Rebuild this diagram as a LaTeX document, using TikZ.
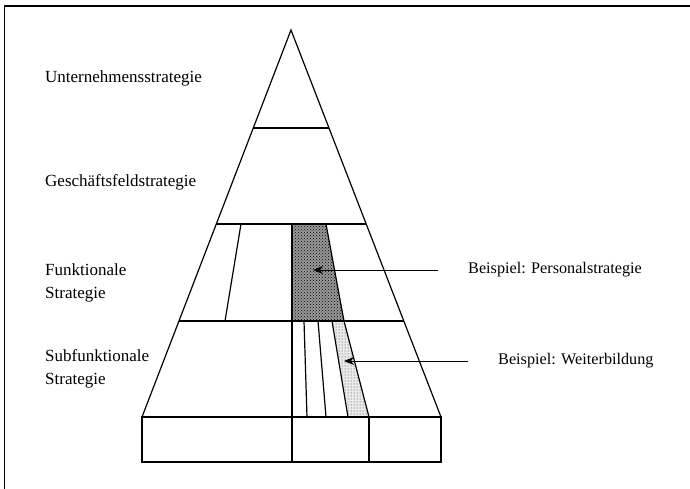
\documentclass[tikz,border=0pt]{standalone}
\usepackage{fontspec}
\setmainfont{Liberation Serif}
\usetikzlibrary{arrows.meta,patterns}
\begin{document}
\begin{tikzpicture}[x=1pt,y=-1pt,
  edge/.style={line width=1.2pt,line join=miter},
  lbl/.style={font=\fontsize{17}{23}\selectfont,inner sep=0pt,anchor=west,align=left},
  note/.style={font=\fontsize{16.2}{23}\selectfont,inner sep=0pt,anchor=west},
  pointer/.style={line width=1pt,-{Stealth[length=10pt,width=8pt,inset=3pt]}}]
\useasboundingbox (0,0) rectangle (690,489);
% frame
\draw[line width=1.4pt] (4.5,489) -- (4.5,6) -- (690,6);
% key points
\coordinate (A) at (291,30);
\coordinate (BL) at (142,417);
\coordinate (BR) at (441,417);
% shaded regions
\fill[black!40] (292,224) -- (326,224) -- (344,321) -- (292,321) -- cycle;
\fill[pattern=crosshatch dots,pattern color=black] (292,224) -- (326,224) -- (344,321) -- (292,321) -- cycle;
\fill[black!8] (332,321) -- (344,321) -- (369,417) -- (348,417) -- cycle;
\fill[pattern=dots,pattern color=black!80] (332,321) -- (344,321) -- (369,417) -- (348,417) -- cycle;
% pyramid outline
\draw[edge] (A) -- (BL) -- (BR) -- cycle;
\draw[edge] (253.3,128) -- (329.0,128);
\draw[edge] (216.3,224) -- (366.2,224);
\draw[edge] (179.0,321) -- (403.8,321);
% functional level divisions
\draw[edge] (241,224) -- (225,321);
\draw[edge] (292,224) -- (292,321);
\draw[edge] (326,224) -- (344,321);
% subfunctional level divisions
\draw[edge] (292,321) -- (292,417);
\draw[edge] (304,321) -- (307,417);
\draw[edge] (318,321) -- (326,417);
\draw[edge] (332,321) -- (348,417);
\draw[edge] (344,321) -- (369,417);
% base block
\draw[edge] (142,417) rectangle (441,462);
\draw[edge] (292,417) -- (292,462);
\draw[edge] (369,417) -- (369,462);
% labels
\node[lbl] (l1) at (45,78) {Unternehmensstrategie};
\node[lbl] (l2) at (45,182) {Geschäftsfeldstrategie};
\node[lbl] (l3) at (45,282.5) {Funktionale\\Strategie};
\node[lbl] (l4) at (45,368.5) {Subfunktionale\\Strategie};
\node[note] (b1) at (468,270) {Beispiel: Personalstrategie};
\node[note] (b2) at (498,361) {Beispiel: Weiterbildung};
% arrows
\coordinate (t1) at (313,270);
\coordinate (t2) at (344,361);
\draw[pointer] (438,270) -- (t1);
\draw[pointer] (468,361) -- (t2);
\end{tikzpicture}
\end{document}
